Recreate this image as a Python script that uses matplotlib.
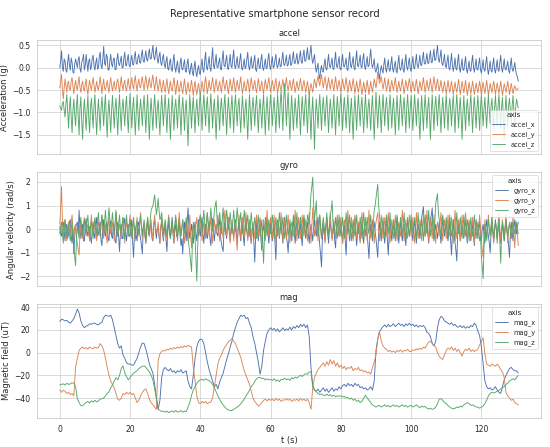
import numpy as np
import matplotlib
matplotlib.use("Agg")
import matplotlib.pyplot as plt
import seaborn as sns

sns.set_theme(style="whitegrid")

dt_fast = 0.25  # s between accel / gyro samples
dt_mag = 0.5    # s between magnetometer samples

# ---- accelerometer (g), one row = 5 s ----
accel_x = [
    0.0, 0.15, 0.38, 0.02, -0.08, 0.2, 0.15, -0.05, -0.1, 0.12, 0.3, 0.05, -0.05, 0.22, 0.12, -0.1, -0.12, 0.08, 0.2, 0.1,
    0.0, 0.18, 0.25, -0.02, -0.1, 0.12, 0.18, 0.3, -0.05, 0.05, 0.3, 0.12, -0.08, 0.15, 0.2, -0.04, 0.02, 0.22, 0.28, 0.05,
    -0.05, 0.12, 0.22, -0.03, 0.0, 0.25, 0.35, 0.05, -0.02, 0.2, 0.48, 0.1, 0.05, 0.3, 0.25, -0.05, -0.05, 0.15, 0.3, 0.08,
    0.02, 0.2, 0.22, -0.04, -0.04, 0.18, 0.32, 0.1, 0.05, 0.15, 0.26, 0.0, 0.0, 0.22, 0.35, 0.06, 0.04, 0.2, 0.3, 0.05,
    0.02, 0.18, 0.28, 0.08, 0.06, 0.25, 0.36, 0.1, 0.08, 0.22, 0.3, 0.12, 0.1, 0.28, 0.4, 0.15, 0.12, 0.25, 0.38, 0.18,
    0.15, 0.3, 0.42, 0.2, 0.2, 0.36, 0.5, 0.25, 0.18, 0.32, 0.46, 0.2, 0.1, 0.25, 0.35, 0.12, 0.05, 0.2, 0.3, 0.08,
    0.0, 0.15, 0.25, -0.02, -0.05, 0.12, 0.2, -0.04, -0.08, 0.15, 0.3, 0.02, -0.1, 0.05, 0.15, -0.06, -0.12, 0.1, 0.22, -0.02,
    -0.05, 0.08, 0.18, -0.08, -0.1, 0.1, 0.2, -0.05, -0.15, 0.0, 0.1, -0.1, -0.18, 0.02, 0.15, -0.1, -0.2, -0.05, 0.05, -0.12,
    -0.15, 0.05, 0.2, -0.05, -0.1, 0.15, 0.35, 0.02, -0.05, 0.1, 0.25, 0.0, -0.08, 0.2, 0.45, 0.05, -0.02, 0.15, 0.3, 0.02,
    0.0, 0.12, 0.22, -0.02, -0.05, 0.2, 0.38, 0.05, 0.02, 0.15, 0.28, 0.0, -0.04, 0.12, 0.3, 0.04, 0.0, 0.22, 0.4, 0.05,
    -0.02, 0.1, 0.25, 0.02, 0.0, 0.18, 0.32, 0.0, -0.05, 0.08, 0.2, -0.02, 0.02, 0.2, 0.35, 0.05, -0.05, 0.1, 0.25, 0.0,
    0.0, 0.15, 0.28, -0.03, -0.08, 0.1, 0.22, 0.02, -0.02, 0.18, 0.3, 0.0, -0.06, 0.08, 0.2, -0.02, 0.0, 0.2, 0.32, 0.04,
    -0.04, 0.12, 0.25, 0.0, 0.02, 0.18, 0.3, 0.05, 0.0, 0.1, 0.22, 0.02, 0.04, 0.2, 0.35, 0.08, 0.05, 0.15, 0.28, 0.04,
    0.06, 0.2, 0.3, 0.05, 0.08, 0.22, 0.36, 0.1, 0.1, 0.2, 0.32, 0.08, 0.12, 0.25, 0.38, 0.12, 0.1, 0.28, 0.4, 0.15,
    0.15, 0.3, 0.45, 0.2, 0.18, 0.35, 0.5, 0.22, 0.1, 0.2, 0.3, 0.05, -0.1, 0.0, 0.1, -0.15, -0.25, -0.05, 0.05, -0.08,
    -0.1, 0.08, 0.2, -0.02, -0.05, 0.12, 0.3, 0.05, 0.0, 0.1, 0.22, -0.02, -0.04, 0.15, 0.35, 0.05, 0.0, 0.12, 0.25, -0.02,
    -0.05, 0.12, 0.3, 0.04, 0.02, 0.1, 0.22, -0.03, -0.06, 0.15, 0.35, 0.05, 0.0, 0.12, 0.25, 0.0, -0.05, 0.18, 0.38, 0.06,
    0.02, 0.15, 0.28, 0.02, 0.0, 0.2, 0.32, 0.04, -0.04, 0.1, 0.25, 0.02, 0.05, 0.22, 0.42, 0.1, 0.0, 0.08, 0.2, -0.05,
    -0.1, 0.0, 0.1, -0.12, -0.25, -0.08, 0.05, -0.05, -0.12, 0.08, 0.22, -0.02, -0.1, 0.05, 0.18, -0.04, -0.08, 0.1, 0.25, -0.03,
    -0.1, 0.05, 0.15, -0.06, -0.12, 0.1, 0.28, 0.0, -0.06, 0.05, 0.2, -0.05, -0.1, 0.12, 0.3, 0.02, -0.05, 0.1, 0.22, -0.02,
    -0.08, 0.1, 0.25, 0.0, -0.02, 0.15, 0.3, 0.05, 0.0, 0.12, 0.28, 0.06, 0.05, 0.2, 0.35, 0.1, 0.08, 0.18, 0.32, 0.1,
    0.1, 0.25, 0.38, 0.12, 0.12, 0.28, 0.42, 0.16, 0.18, 0.35, 0.5, 0.22, 0.12, 0.25, 0.4, 0.1, 0.05, 0.18, 0.3, 0.04,
    0.0, 0.15, 0.28, 0.0, -0.05, 0.12, 0.32, 0.05, -0.08, 0.06, 0.22, -0.02, -0.05, 0.15, 0.3, 0.0, -0.1, 0.05, 0.2, -0.04,
    -0.06, 0.1, 0.25, -0.02, -0.12, 0.02, 0.15, -0.05, -0.08, 0.12, 0.28, 0.02, -0.1, 0.05, 0.2, -0.04, -0.05, 0.1, 0.22, -0.05,
    -0.12, 0.02, 0.18, -0.04, -0.08, 0.1, 0.25, -0.02, -0.15, 0.0, 0.15, -0.06, -0.1, 0.08, 0.22, -0.04, -0.12, 0.02, 0.18, -0.05,
    -0.08, 0.12, 0.28, 0.0, -0.1, 0.05, 0.2, -0.03, -0.05, 0.04, 0.15, -0.06, -0.12, 0.06, 0.22, -0.02, -0.08, 0.0, 0.12, -0.05,
    -0.15, -0.2, -0.3,
]
accel_y = [
    -0.45, -0.3, -0.15, -0.5, -0.7, -0.45, -0.25, -0.4, -0.55, -0.35, -0.3, -0.48, -0.5, -0.3, -0.22, -0.42, -0.58, -0.4, -0.28, -0.45,
    -0.5, -0.32, -0.2, -0.44, -0.55, -0.38, -0.3, -0.46, -0.52, -0.36, -0.25, -0.48, -0.6, -0.4, -0.28, -0.42, -0.5, -0.34, -0.22, -0.4,
    -0.55, -0.42, -0.3, -0.45, -0.5, -0.35, -0.2, -0.4, -0.58, -0.38, -0.25, -0.46, -0.5, -0.4, -0.28, -0.44, -0.55, -0.34, -0.22, -0.4,
    -0.52, -0.38, -0.3, -0.48, -0.48, -0.32, -0.25, -0.42, -0.55, -0.36, -0.2, -0.4, -0.5, -0.35, -0.28, -0.45, -0.52, -0.36, -0.24, -0.42,
    -0.5, -0.34, -0.22, -0.4, -0.48, -0.3, -0.18, -0.38, -0.52, -0.36, -0.25, -0.42, -0.45, -0.3, -0.2, -0.38, -0.5, -0.32, -0.18, -0.36,
    -0.48, -0.34, -0.22, -0.4, -0.45, -0.28, -0.16, -0.35, -0.5, -0.34, -0.2, -0.4, -0.52, -0.38, -0.25, -0.42, -0.55, -0.4, -0.28, -0.45,
    -0.55, -0.38, -0.25, -0.44, -0.58, -0.42, -0.3, -0.46, -0.52, -0.36, -0.22, -0.42, -0.6, -0.42, -0.28, -0.46, -0.55, -0.4, -0.3, -0.48,
    -0.58, -0.4, -0.25, -0.44, -0.6, -0.45, -0.32, -0.48, -0.55, -0.4, -0.28, -0.46, -0.62, -0.44, -0.3, -0.48, -0.6, -0.46, -0.35, -0.5,
    -0.62, -0.45, -0.3, -0.46, -0.55, -0.36, -0.2, -0.4, -0.58, -0.42, -0.28, -0.44, -0.5, -0.34, -0.22, -0.4, -0.55, -0.38, -0.25, -0.42,
    -0.52, -0.4, -0.3, -0.44, -0.55, -0.36, -0.2, -0.38, -0.5, -0.38, -0.28, -0.45, -0.58, -0.4, -0.25, -0.4, -0.52, -0.36, -0.22, -0.4,
    -0.55, -0.4, -0.28, -0.42, -0.5, -0.34, -0.2, -0.42, -0.58, -0.44, -0.3, -0.45, -0.52, -0.38, -0.25, -0.4, -0.55, -0.36, -0.22, -0.4,
    -0.5, -0.38, -0.28, -0.45, -0.56, -0.4, -0.24, -0.4, -0.52, -0.4, -0.3, -0.46, -0.58, -0.4, -0.26, -0.4, -0.5, -0.34, -0.22, -0.4,
    -0.55, -0.4, -0.28, -0.42, -0.52, -0.36, -0.24, -0.42, -0.58, -0.42, -0.3, -0.45, -0.5, -0.38, -0.26, -0.42, -0.55, -0.36, -0.22, -0.4,
    -0.52, -0.38, -0.28, -0.42, -0.5, -0.36, -0.25, -0.42, -0.55, -0.42, -0.3, -0.44, -0.5, -0.36, -0.24, -0.4, -0.52, -0.38, -0.28, -0.42,
    -0.55, -0.42, -0.3, -0.46, -0.6, -0.46, -0.35, -0.46, -0.55, -0.38, -0.25, -0.36, -0.45, -0.3, -0.18, -0.3, -0.4, -0.26, -0.15, -0.32,
    -0.45, -0.32, -0.2, -0.36, -0.5, -0.36, -0.22, -0.38, -0.48, -0.34, -0.25, -0.4, -0.52, -0.36, -0.2, -0.38, -0.5, -0.38, -0.28, -0.42,
    -0.55, -0.4, -0.25, -0.4, -0.5, -0.36, -0.22, -0.4, -0.56, -0.42, -0.28, -0.42, -0.52, -0.38, -0.24, -0.42, -0.58, -0.44, -0.3, -0.44,
    -0.55, -0.4, -0.25, -0.44, -0.6, -0.46, -0.32, -0.46, -0.56, -0.42, -0.28, -0.44, -0.6, -0.44, -0.3, -0.44, -0.55, -0.4, -0.25, -0.36,
    -0.45, -0.3, -0.1, -0.22, -0.35, -0.28, -0.2, -0.36, -0.48, -0.36, -0.22, -0.4, -0.52, -0.38, -0.25, -0.42, -0.55, -0.4, -0.28, -0.42,
    -0.5, -0.36, -0.22, -0.4, -0.55, -0.42, -0.3, -0.44, -0.52, -0.38, -0.25, -0.42, -0.58, -0.42, -0.28, -0.4, -0.5, -0.36, -0.24, -0.4,
    -0.55, -0.42, -0.3, -0.44, -0.52, -0.38, -0.26, -0.44, -0.58, -0.44, -0.3, -0.42, -0.5, -0.36, -0.22, -0.4, -0.55, -0.42, -0.28, -0.42,
    -0.5, -0.36, -0.24, -0.42, -0.55, -0.38, -0.2, -0.36, -0.5, -0.38, -0.25, -0.4, -0.52, -0.4, -0.28, -0.44, -0.55, -0.42, -0.3, -0.46,
    -0.58, -0.42, -0.28, -0.44, -0.55, -0.42, -0.3, -0.46, -0.6, -0.46, -0.32, -0.46, -0.55, -0.4, -0.26, -0.44, -0.6, -0.44, -0.3, -0.44,
    -0.56, -0.42, -0.28, -0.46, -0.62, -0.46, -0.32, -0.46, -0.58, -0.44, -0.3, -0.46, -0.6, -0.46, -0.34, -0.46, -0.56, -0.42, -0.3, -0.46,
    -0.6, -0.46, -0.32, -0.46, -0.58, -0.42, -0.28, -0.46, -0.62, -0.48, -0.35, -0.46, -0.56, -0.42, -0.3, -0.46, -0.6, -0.46, -0.34, -0.46,
    -0.58, -0.44, -0.3, -0.46, -0.62, -0.48, -0.36, -0.46, -0.55, -0.42, -0.3, -0.46, -0.6, -0.48, -0.35, -0.46, -0.58, -0.48, -0.4, -0.46,
    -0.5, -0.48, -0.45,
]
accel_z = [
    -0.85, -0.9, -0.95, -0.8, -0.75, -0.95, -1.1, -0.8, -0.6, -1.0, -1.35, -0.9, -0.65, -1.1, -1.45, -0.95, -0.7, -1.05, -1.3, -0.85,
    -0.6, -1.1, -1.5, -0.9, -0.65, -1.2, -1.6, -1.0, -0.7, -1.05, -1.4, -0.95, -0.62, -1.15, -1.45, -0.9, -0.68, -1.0, -1.35, -0.85,
    -0.6, -1.1, -1.5, -1.0, -0.7, -1.05, -1.4, -0.9, -0.65, -0.95, -1.3, -0.85, -0.6, -1.15, -1.55, -1.0, -0.72, -1.1, -1.45, -0.95,
    -0.62, -1.0, -1.35, -0.9, -0.68, -1.1, -1.5, -0.95, -0.6, -1.05, -1.4, -0.9, -0.7, -1.0, -1.3, -0.85, -0.64, -1.1, -1.45, -0.9,
    -0.58, -0.95, -1.35, -0.9, -0.66, -1.1, -1.5, -1.0, -0.6, -1.0, -1.4, -0.95, -0.7, -1.0, -1.3, -0.85, -0.62, -1.05, -1.45, -0.95,
    -0.6, -1.15, -1.6, -1.0, -0.68, -1.05, -1.4, -0.9, -0.6, -0.95, -1.35, -0.9, -0.72, -1.1, -1.5, -0.95, -0.62, -0.95, -1.3, -0.85,
    -0.6, -1.05, -1.45, -0.95, -0.68, -1.15, -1.6, -1.0, -0.62, -1.0, -1.4, -0.9, -0.7, -1.0, -1.35, -0.85, -0.6, -1.05, -1.5, -0.95,
    -0.66, -1.0, -1.4, -0.9, -0.72, -1.2, -1.75, -1.1, -0.6, -0.95, -1.35, -0.9, -0.65, -1.05, -1.45, -0.95, -0.7, -1.0, -1.3, -0.8,
    -0.55, -0.95, -1.4, -0.9, -0.6, -0.95, -1.3, -0.85, -0.65, -1.05, -1.45, -0.9, -0.58, -0.95, -1.35, -0.9, -0.7, -1.1, -1.6, -1.0,
    -0.62, -1.0, -1.4, -0.9, -0.68, -1.0, -1.3, -0.85, -0.6, -1.05, -1.5, -0.95, -0.66, -1.0, -1.35, -0.9, -0.62, -1.0, -1.45, -0.9,
    -0.6, -0.95, -1.3, -0.85, -0.68, -1.05, -1.45, -0.95, -0.62, -1.0, -1.35, -0.9, -0.7, -1.15, -1.6, -1.0, -0.6, -1.0, -1.4, -0.9,
    -0.66, -0.95, -1.3, -0.85, -0.62, -1.05, -1.45, -0.95, -0.7, -1.0, -1.35, -0.9, -0.6, -1.05, -1.5, -0.95, -0.65, -1.0, -1.4, -0.9,
    -0.6, -0.95, -1.3, -0.9, -0.66, -1.05, -1.45, -0.95, -0.6, -0.95, -1.35, -0.8, -0.5, -0.95, -1.4, -0.7, -0.35, -0.8, -1.3, -0.85,
    -0.55, -1.1, -1.6, -1.0, -0.62, -1.0, -1.4, -0.95, -0.68, -1.0, -1.35, -0.9, -0.6, -1.05, -1.5, -0.95, -0.65, -1.0, -1.3, -0.85,
    -0.6, -1.0, -1.45, -0.9, -0.55, -1.1, -1.6, -1.0, -0.65, -1.2, -1.82, -1.1, -0.7, -1.0, -1.35, -0.9, -0.6, -1.0, -1.4, -0.9,
    -0.66, -1.0, -1.3, -0.85, -0.62, -1.05, -1.45, -0.95, -0.7, -1.0, -1.35, -0.9, -0.6, -1.05, -1.5, -0.95, -0.64, -0.95, -1.3, -0.85,
    -0.58, -1.0, -1.4, -0.9, -0.66, -1.0, -1.35, -0.9, -0.6, -1.05, -1.45, -0.95, -0.68, -1.15, -1.6, -1.0, -0.62, -1.0, -1.4, -0.9,
    -0.6, -0.95, -1.3, -0.85, -0.66, -1.05, -1.45, -0.95, -0.6, -0.95, -1.35, -0.9, -0.7, -1.05, -1.4, -0.9, -0.62, -1.1, -1.6, -1.0,
    -0.55, -0.95, -1.35, -0.9, -0.62, -1.05, -1.45, -0.95, -0.6, -0.95, -1.3, -0.85, -0.66, -1.0, -1.4, -0.9, -0.6, -0.95, -1.35, -0.9,
    -0.68, -1.1, -1.5, -0.95, -0.62, -1.0, -1.4, -0.9, -0.6, -0.95, -1.3, -0.85, -0.66, -1.05, -1.45, -0.9, -0.6, -0.95, -1.35, -0.9,
    -0.62, -1.0, -1.4, -0.9, -0.6, -0.95, -1.3, -0.85, -0.68, -1.15, -1.6, -1.0, -0.62, -1.0, -1.4, -0.9, -0.6, -0.95, -1.35, -0.9,
    -0.66, -1.1, -1.6, -1.0, -0.6, -1.0, -1.4, -0.9, -0.64, -0.95, -1.3, -0.85, -0.6, -1.05, -1.45, -0.95, -0.66, -1.0, -1.35, -0.9,
    -0.6, -1.0, -1.4, -0.9, -0.68, -0.95, -1.3, -0.85, -0.62, -1.05, -1.45, -0.9, -0.6, -0.95, -1.35, -0.9, -0.66, -1.1, -1.6, -1.0,
    -0.62, -1.0, -1.4, -0.9, -0.7, -1.0, -1.3, -0.85, -0.6, -1.05, -1.45, -0.9, -0.65, -1.0, -1.35, -0.9, -0.62, -1.0, -1.4, -0.9,
    -0.6, -0.95, -1.3, -0.9, -0.66, -1.0, -1.35, -0.9, -0.6, -0.95, -1.25, -0.85, -0.68, -1.05, -1.4, -0.9, -0.62, -0.95, -1.3, -0.85,
    -0.6, -1.0, -1.35, -0.9, -0.66, -1.1, -1.6, -1.0, -0.62, -0.95, -1.3, -0.85, -0.68, -0.95, -1.25, -0.85, -0.62, -0.95, -1.3, -0.9,
    -0.7, -0.8, -0.9,
]

# ---- gyroscope (rad/s), one row = 5 s ----
gyro_x = [
    0.1, -0.2, -0.3, 0.2, 0.3, -0.1, -0.5, 0.1, 0.2, -0.4, -0.2, 0.3, 0.4, -0.3, -0.6, 0.0, -1.05, -0.3, 0.1, 0.2,
    0.3, -0.2, 0.8, 0.1, -0.4, -0.1, 0.2, -0.5, -0.5, 0.2, 0.45, -0.1, -0.3, 0.1, 0.1, -0.4, -0.6, 0.0, 0.3, -0.2,
    -0.4, 0.2, 0.5, -0.3, -0.2, 0.1, 0.3, -0.5, -0.7, 0.0, 0.4, -0.2, -0.3, 0.3, 0.2, -0.4, -0.5, 0.1, 0.35, -0.3,
    -0.4, 0.2, 0.1, -0.5, -0.6, 0.1, 0.3, -0.3, -0.95, -0.2, 0.2, -0.4, -0.4, 0.3, 0.45, -0.2, -0.5, 0.0, 0.2, -0.3,
    -0.3, 0.1, 0.4, -0.6, -1.2, -0.2, 0.1, -0.3, -0.5, 0.2, 0.3, -0.2, -0.4, -0.7, -1.05, 0.0, 0.2, -0.3, -0.6, 0.1,
    0.35, -0.2, -0.3, 0.1, 0.2, -0.4, -0.5, 0.2, 0.4, -0.1, -0.4, 0.0, 0.1, -0.3, -0.6, 0.1, 0.3, -0.2, -0.5, 0.0,
    0.2, -0.5, -0.95, 0.0, 0.3, -0.2, -0.4, 0.1, 0.5, -0.2, -0.6, 0.0, 0.2, -0.3, -0.3, 0.2, 0.4, -0.3, -0.7, -0.4,
    -1.05, -0.2, 0.3, -0.1, -0.5, 0.3, 0.9, 0.1, -0.4, -0.1, 0.2, -0.3, -0.6, 0.0, 0.3, -0.2, -0.5, 0.1, 0.4, -0.1,
    -0.3, 0.2, 0.5, -0.2, -0.6, 0.0, 0.2, -0.3, -0.4, 0.1, 0.3, -0.4, -0.7, 0.0, 0.45, -0.1, -0.5, 0.0, 0.2, -0.2,
    -0.3, 0.2, 0.4, -0.3, -0.6, -0.8, -0.95, 0.0, 0.3, -0.2, -0.4, 0.2, 0.5, -0.1, -0.5, 0.0, 0.2, -0.1, -0.3, 0.1,
    0.4, -0.2, -0.6, 0.0, 0.3, -0.2, -0.5, 0.1, 0.2, -0.3, -0.7, 0.0, 0.45, -0.1, -0.4, 0.1, 0.3, -0.3, -0.6, 0.0,
    0.2, -0.6, -1.4, -0.3, 0.3, -0.1, -0.5, 0.1, 0.4, -0.4, -0.9, -0.2, 0.2, -0.1, -0.4, 0.2, 0.5, -0.1, -0.6, -0.1,
    0.3, -0.2, -0.5, 0.0, 0.2, -0.6, -1.3, -0.2, 0.4, 0.0, -0.4, 0.1, 0.3, -0.2, -0.6, 0.1, 0.5, -0.1, -0.3, -0.6,
    -1.0, -0.3, 0.2, -0.1, -0.5, 0.1, 0.4, -0.2, -0.6, 0.0, 0.3, -0.1, -0.4, 0.0, 0.2, -0.3, -0.7, 0.0, 0.5, -0.1,
    -0.4, 0.0, 0.3, -0.2, -0.6, 0.0, 0.2, -0.2, -0.5, 0.1, 0.4, -0.1, -0.3, 0.2, 0.5, -0.2, -0.7, -1.1, -1.6, -0.4,
    0.2, -0.2, -0.5, 0.1, 0.4, -0.2, -0.6, 0.0, 0.3, -0.1, -0.4, 0.0, 0.2, -0.5, -0.8, 0.0, 0.5, 0.0, -0.3, 0.1,
    0.3, -0.2, -0.6, 0.0, 0.2, -0.5, -1.1, -0.2, 0.4, 0.0, -0.5, 0.0, 0.3, -0.1, -0.4, 0.1, 0.5, -0.2, -0.7, -0.1,
    0.2, -0.2, -0.5, 0.0, 0.3, -0.3, -0.6, 0.1, 0.4, 0.0, -0.3, -0.7, -1.25, -0.3, 0.2, -0.2, -0.5, 0.0, 0.3, -0.1,
    -0.4, -0.8, -1.2, -0.2, 0.3, -0.1, -0.5, 0.0, 0.2, -0.3, -0.6, 0.1, 0.4, -0.5, -1.1, -0.2, 0.3, -0.1, -0.5, 0.0,
    0.2, -0.2, -0.4, 0.1, 0.5, -0.1, -0.6, 0.0, 0.3, -0.2, -0.5, 0.0, 0.2, -0.3, -0.7, 0.0, 0.4, 0.0, -0.3, 0.0,
    0.3, -0.2, -0.5, 0.1, 0.4, -0.2, -0.6, 0.0, 0.2, -0.1, -0.4, 0.2, 0.5, 0.7, 0.95, 0.1, -0.3, 0.0, 0.3, -0.2,
    -0.6, 0.0, 0.4, 0.6, 0.9, 0.0, -0.5, -0.1, 0.2, -0.1, -0.4, 0.0, 0.3, -0.2, -0.6, 0.0, 0.5, 0.0, -0.3, 0.0,
    0.2, -0.2, -0.5, 0.0, 0.3, -0.5, -1.1, -0.2, 0.4, -0.2, -0.6, -0.9, -1.35, -0.2, 0.3, -0.1, -0.5, 0.0, 0.2, -0.1,
    -0.4, 0.1, 0.5, -0.2, -0.6, 0.0, 0.3, -0.2, -0.5, 0.0, 0.2, -0.3, -0.7, 0.0, 0.4, 0.0, -0.4, 0.0, 0.3, -0.1,
    -0.5, 0.0, 0.2, -0.2, -0.6, 0.0, 0.4, 0.0, -0.3, -0.6, -1.0, -0.2, 0.3, -0.1, -0.5, 0.0, 0.4, 0.0, -0.4, 0.0,
    0.3, -0.2, -0.6, 0.0, 0.2, -0.2, -0.5, 0.0, 0.4, 0.0, -0.3, -0.7, -1.2, -0.2, 0.3, -0.1, -0.5, 0.0, 0.4, 0.1,
    -0.2, 0.1, 0.3,
]
gyro_y = [
    0.2, 0.9, 1.8, 0.3, -0.3, 0.1, 0.4, -0.2, -0.5, 0.0, 0.3, -0.1, -0.2, 0.3, 0.6, 0.0, -0.4, 0.1, 0.2, -0.3,
    -0.6, -0.9, -1.1, -0.2, 0.3, -0.1, -0.4, 0.2, 0.5, 0.0, -0.3, 0.1, 0.2, -0.2, -0.5, 0.2, 0.6, 0.1, -0.2, 0.0,
    0.4, -0.1, -0.5, 0.1, 0.3, 0.0, -0.3, 0.2, 0.6, 0.0, -0.4, 0.1, 0.2, -0.3, -0.6, 0.1, 0.5, 0.0, -0.2, 0.1,
    0.3, -0.1, -0.5, 0.2, 0.7, 0.1, -0.3, 0.0, 0.2, -0.1, -0.4, 0.1, 0.5, 0.0, -0.6, 0.0, 0.3, 0.0, -0.2, 0.2,
    0.6, 0.0, -0.4, 0.1, 0.3, -0.1, -0.5, 0.2, 0.5, 0.0, -0.3, 0.2, 0.7, 0.1, -0.4, 0.0, 0.2, -0.2, -0.6, 0.1,
    0.5, 0.0, -0.3, 0.1, 0.4, -0.1, -0.5, 0.2, 0.6, 0.1, -0.2, 0.0, 0.3, -0.2, -0.6, 0.0, 0.5, 0.1, -0.4, 0.0,
    0.3, -0.1, -0.5, 0.2, 0.6, 0.1, -0.3, 0.0, 0.2, -0.2, -0.6, 0.1, 0.5, 0.0, -0.4, 0.2, 0.7, 0.1, -0.3, 0.0,
    0.4, -0.1, -0.6, 0.0, 0.3, -0.1, -0.5, 0.1, 0.6, -0.2, -0.8, 0.0, 0.2, -0.1, -0.4, 0.2, 0.5, 0.0, -0.3, 0.1,
    0.6, 0.0, -0.5, 0.0, 0.3, -0.1, -0.4, 0.2, 0.7, 0.1, -0.3, 0.1, 0.5, -0.1, -0.6, 0.0, 0.4, 0.0, -0.2, 0.2,
    0.6, 0.0, -0.5, 0.0, 0.3, -0.1, -0.4, 0.3, 0.8, 0.1, -0.3, 0.0, 0.5, -0.2, -0.6, 0.0, 0.4, 0.0, -0.5, 0.0,
    0.3, -0.4, -0.9, 0.0, 0.6, 0.1, -0.4, 0.1, 0.5, 0.0, -0.3, 0.2, 0.7, 0.0, -0.5, 0.0, 0.4, -0.1, -0.6, 0.0,
    0.3, 0.0, -0.4, 0.1, 0.6, 0.0, -0.3, 0.1, 0.5, -0.2, -0.7, 0.0, 0.4, 0.0, -0.5, 0.2, 0.8, 0.1, -0.3, 0.1,
    0.5, 0.0, -0.4, 0.1, 0.6, -0.1, -0.6, 0.0, 0.3, 0.0, -0.3, 0.2, 0.7, 0.0, -0.5, 0.0, 0.4, 0.0, -0.4, 0.1,
    0.6, 0.0, -0.6, 0.0, 0.3, 0.0, -0.3, 0.3, 0.8, 0.0, -0.5, 0.1, 0.5, 0.0, -0.4, 0.1, 0.6, 0.0, -0.3, 0.1,
    0.4, -0.1, -0.5, 0.2, 0.7, 0.0, -0.6, 0.2, 0.9, 0.2, -0.3, 0.0, 0.4, 0.0, -0.5, 0.1, 0.6, 0.0, -0.4, 0.0,
    0.3, -0.1, -0.6, 0.0, 0.5, 0.0, -0.3, 0.2, 0.7, 0.0, -0.5, 0.0, 0.4, 0.0, -0.4, 0.1, 0.6, 0.0, -0.3, 0.1,
    0.5, -0.1, -0.6, 0.0, 0.4, 0.0, -0.4, 0.2, 0.8, 0.1, -0.3, 0.1, 0.5, 0.0, -0.5, 0.1, 0.6, 0.0, -0.4, 0.0,
    0.3, -0.1, -0.6, 0.2, 0.7, 0.1, -0.3, 0.1, 0.5, 0.0, -0.5, 0.1, 0.8, 0.1, -0.4, 0.0, 0.4, -0.1, -0.6, 0.0,
    0.3, 0.5, 0.7, 0.0, -0.5, 0.0, 0.6, 0.1, -0.4, 0.0, 0.5, 0.1, -0.3, 0.2, 0.7, 0.0, -0.6, 0.0, 0.4, 0.0,
    -0.4, 0.1, 0.6, 0.0, -0.5, 0.0, 0.3, 0.0, -0.3, 0.2, 0.8, 0.1, -0.5, 0.0, 0.4, 0.0, -0.4, 0.1, 0.6, 0.1,
    -0.3, 0.0, 0.5, 0.0, -0.6, 0.0, 0.7, 0.1, -0.4, 0.0, 0.4, 0.0, -0.5, 0.1, 0.6, 0.0, -0.3, 0.2, 0.8, 0.1,
    -0.5, 0.0, 0.4, 0.0, -0.4, 0.1, 0.6, 0.0, -0.6, 0.0, 0.3, 0.0, -0.3, 0.2, 0.7, 0.1, -0.5, 0.0, 0.4, 0.0,
    -0.4, 0.1, 0.6, 0.0, -0.3, 0.0, 0.5, 0.0, -0.6, 0.1, 0.8, 0.1, -0.4, 0.0, 0.4, 0.0, -0.5, 0.0, 0.6, 0.0,
    -0.3, 0.2, 0.7, 0.0, -0.5, 0.0, 0.4, 0.0, -0.4, 0.0, 0.5, 0.0, -0.6, 0.0, 0.3, 0.0, -0.3, 0.1, 0.6, 0.0,
    -0.5, -0.9, -1.2, -0.2, 0.4, 0.0, -0.4, 0.1, 0.6, 0.0, -0.3, 0.1, 0.5, 0.0, -0.6, 0.0, 0.3, 0.0, -0.4, 0.2,
    0.7, 0.0, -0.5, 0.0, 0.4, 0.0, -0.3, 0.1, 0.6, 0.0, -0.6, 0.0, 0.3, 0.0, -0.4, 0.0, 0.5, -0.2, -0.8, 0.0,
    0.3, -0.2, -0.7,
]
gyro_z = [
    -0.2, 0.1, 0.3, -0.2, -0.6, 0.0, 0.4, 0.1, -0.3, 0.0, 0.2, -0.2, -0.5, 0.0, 0.3, -0.3, -0.8, -1.2, -1.55, -0.4,
    0.2, -0.1, -0.4, 0.2, 0.5, 0.0, -0.3, 0.1, 0.4, 0.0, -0.2, 0.3, 0.6, 0.0, -0.3, 0.1, 0.3, -0.1, -0.4, 0.1,
    0.5, 0.1, -0.2, 0.3, 0.7, 0.1, -0.3, 0.2, 0.6, 0.2, -0.1, 0.3, 0.8, 0.2, -0.2, 0.4, 0.9, 0.4, 0.1, 0.3,
    0.7, 0.2, -0.2, 0.3, 0.8, 0.2, -0.3, 0.2, 0.6, 0.1, -0.2, 0.2, 0.5, 0.0, -0.4, 0.2, 0.6, 0.1, -0.3, 0.1,
    0.4, 0.0, -0.3, 0.1, 0.5, 0.0, -0.4, 0.1, 0.3, 0.0, -0.2, 0.3, 0.6, 0.1, -0.3, 0.1, 0.4, 0.0, -0.5, 0.0,
    0.5, 0.1, -0.2, 0.4, 0.8, 0.9, 1.0, 1.2, 1.45, 1.0, 0.6, 0.9, 1.3, 0.8, 0.4, 0.5, 0.7, 0.3, -0.2, 0.1,
    0.4, 0.0, -0.3, 0.1, 0.5, 0.0, -0.4, 0.0, 0.3, 0.0, -0.2, 0.2, 0.6, 0.1, -0.5, 0.0, 0.3, 0.0, -0.3, 0.1,
    0.4, 0.0, -0.2, 0.1, 0.5, 0.0, -0.4, -0.7, -1.0, -1.4, -1.8, -0.6, 0.3, 0.0, -0.4, -1.2, -2.2, -0.8, 0.2, 0.4,
    0.6, 0.2, -0.1, 0.3, 0.8, 0.3, -0.2, 0.3, 0.7, 0.3, 0.0, 0.4, 0.9, 0.4, -0.1, 0.3, 0.8, 1.0, 1.2, 0.5,
    0.0, 0.3, 0.7, 0.3, -0.2, 0.4, 0.9, 0.3, -0.1, 0.3, 0.8, 0.4, 0.0, 0.3, 0.7, 0.2, -0.2, 0.3, 0.8, 0.3,
    -0.1, 0.4, 0.9, 0.4, 0.0, 0.3, 0.7, 0.2, -0.2, 0.3, 0.8, 0.3, -0.1, 0.2, 0.6, 0.1, -0.3, 0.2, 0.7, 0.2,
    -0.2, 0.1, 0.5, 0.1, -0.4, 0.1, 0.6, 0.1, -0.3, 0.0, 0.4, -0.5, -1.45, -0.4, 0.5, 0.1, -0.3, 0.0, 0.4, 0.0,
    -0.2, 0.2, 0.6, 0.1, -0.4, 0.0, 0.5, 0.1, -0.3, 0.2, 0.7, 0.2, -0.2, 0.1, 0.5, 0.0, -0.4, 0.1, 0.6, 0.1,
    -0.3, 0.0, 0.4, 0.0, -0.5, 0.1, 0.6, 0.2, -0.2, 0.2, 0.7, 0.1, -0.3, 0.1, 0.5, 0.0, -0.4, 0.1, 0.6, 0.1,
    -0.3, 0.1, 0.6, 0.4, 0.2, 0.8, 1.5, 1.8, 2.2, 1.0, 0.4, 0.8, 1.2, 0.3, -0.3, 0.1, 0.6, 0.1, -0.4, 0.1,
    0.5, 0.1, -0.2, 0.2, 0.7, 0.1, -0.3, 0.1, 0.6, 0.8, 1.2, 0.3, -0.2, 0.1, 0.5, 0.0, -0.4, 0.1, 0.6, 0.1,
    -0.3, 0.1, 0.5, 0.0, -0.4, 0.2, 0.7, 0.1, -0.2, 0.1, 0.6, 0.0, -0.5, 0.0, 0.4, 0.0, -0.3, 0.1, 0.6, 0.1,
    -0.2, 0.1, 0.5, 0.0, -0.4, 0.2, 0.7, 0.1, -0.3, 0.1, 0.5, 0.0, -0.2, 0.2, 0.6, 0.0, -0.4, 0.3, 0.8, 1.0,
    1.3, 1.6, 1.9, 1.0, 0.6, 0.1, -0.3, 0.1, 0.5, 0.0, -0.4, 0.1, 0.6, 0.1, -0.2, 0.2, 0.7, 0.1, -0.3, 0.0,
    0.4, 0.0, -0.5, 0.0, 0.6, 0.1, -0.3, 0.1, 0.5, 0.0, -0.2, 0.2, 0.7, 0.0, -0.4, 0.0, 0.5, 0.0, -0.3, 0.1,
    0.6, 0.1, -0.2, 0.1, 0.5, 0.0, -0.4, 0.1, 0.7, 0.1, -0.3, 0.0, 0.4, 0.0, -0.5, 0.1, 0.6, 0.1, -0.2, 0.2,
    0.8, 0.1, -0.3, 0.1, 0.5, 0.0, -0.4, 0.3, 1.1, 1.3, 1.5, 0.7, 0.4, 0.0, -0.3, 0.1, 0.6, 0.1, -0.2, 0.1,
    0.5, 0.0, -0.4, 0.1, 0.6, 0.1, -0.3, 0.0, 0.4, 0.0, -0.5, 0.1, 0.7, 0.1, -0.2, 0.1, 0.5, 0.0, -0.4, 0.0,
    0.6, 0.1, -0.3, 0.0, 0.4, 0.0, -0.5, 0.0, 0.5, 0.0, -0.3, 0.1, 0.6, 0.0, -0.4, 0.0, 0.3, 0.0, -0.5, -0.3,
    -1.2, -1.6, -2.1, -0.8, 0.2, 0.0, -0.5, 0.0, 0.4, 0.0, -0.3, 0.1, 0.5, 0.0, -0.4, 0.0, 0.3, 0.0, -0.6, 0.0,
    0.4, -0.5, -1.45, -0.3, 0.3, 0.0, -0.5, 0.0, 0.4, 0.0, -0.3, 0.0, 0.2, 0.0, -0.4, 0.0, 0.3, 0.0, -0.2, 0.0,
    0.3, 0.0, -0.2,
]

# ---- magnetometer (uT), one row = 10 s ----
mag_x = [
    27.5, 29.5, 29, 28, 28.5, 27, 26, 28, 30, 34, 38.5, 35, 28, 24, 22, 23.5, 24, 25.5, 25, 26,
    26, 25, 24.5, 26, 27, 31, 33, 32.5, 32, 33, 29, 22, 15, 8, 4, 6, -2, -5, -9, -10,
    -10, -11, -11, -8, -5, 0, 5, 8.5, 8, 3, -3, -10, -14, -18, -28, -40, -50, -42, -22, -15,
    -13, -15, -16, -14, -17, -16, -18, -16, -17, -15, -18, -17, -16, -25, -30, -32, -20, -5, 5, 10,
    12, 11.5, 8, 0, -8, -15, -20, -25, -30, -28, -32, -26, -22, -18, -12, -6, -1, 5, 10, 17,
    22, 27, 30, 33, 32, 33, 30, 31, 26, 22, 14, 8, 0, -8, -19, -12, 2, 10, 17, 20,
    22, 20, 21.5, 19, 21, 18.5, 20, 22, 19.5, 21, 20, 22.5, 20, 23, 21.5, 24, 22, 25, 23, 25,
    22, 24.5, 14, -13, -29, -33, -34, -32, -35, -33, -31, -34, -32, -35, -33, -31, -34, -32, -33, -30,
    -32, -29, -28, -30, -27, -29, -28, -30, -27, -29, -28, -31, -30, -32, -31, -33, -32, -30, -33, -25,
    2, 12, 18.5, 21, 23, 24.5, 22.5, 25, 23, 24, 25.5, 23, 24.5, 26, 24, 25, 23, 25.5, 24, 26,
    24, 25, 23, 24.5, 22.5, 24, 23, 24, 22, 18, 17, 14, 8.5, 6, 10, 22, 29, 32, 31, 28,
    27, 26, 25, 26.5, 24, 25, 23, 22.5, 24, 22, 23.5, 21.5, 23, 22, 24, 23, 26, 24, 19, 15,
    5, -10, -25, -30, -32, -31, -33, -32, -30, -33, -35, -36, -30, -24, -20, -17, -14, -13, -15, -16,
    -16, -18,
]
mag_y = [
    -33, -35, -33, -34, -36, -35, -37, -36, -38, -13, -5, 2, 4, 5, 3.5, 4.5, 3, 5, 4, 3.5,
    5, 4, 4.5, 8, 6, 2, -5, -13, -20, -25, -28, -31, -36, -41, -42, -40, -36, -37, -35, -36.5,
    -35, -37, -36, -40, -44, -42, -38, -35, -33, -32, -36, -41, -44, -46, -48, -50, -7, -1, 1, 2,
    1.5, 3, 2.5, 4, 3, 4.5, 3.5, 5, 4, 5.5, 4.5, 6, 5, 6.5, 5.5, 5, -13, -25, -38, -44,
    -45, -43, -44.5, -43, -45, -44, -43.5, -40, -30, -20, -10, -5, -2, 2, 5, 7, 9.5, 11, 12.5, 10,
    8, 4, 0, -4, -10, -16, -20, -24, -28, -34, -40, -43, -45, -47, -46, -44, -42, -41, -42.5, -41,
    -42, -41, -42.5, -40.5, -42, -41, -43, -41.5, -42, -40.5, -42, -41, -43, -41.5, -42, -41, -42.5, -40.5, -42, -41,
    -42.5, -41, -44, -50, -31, -22, -18, -15, -13, -11, -9, -12, -8, -11, -6, -10, -7, -12, -9, -13,
    -11, -14, -12, -15, -13, -14, -12, -16, -14, -15, -13, -16, -15, -17, -16, -18, -17, -19, -13, -8,
    -2, 12, 18.5, 10, 6, 4, 3, 1, 2, 0.5, 1.5, 0, 2, 1, 2.5, 0.5, 2, 1.5, 3, 1,
    1, 2.5, 2, 3.5, 2.5, 4, 3, 5, 4, 7, 9.5, 10, 8, 6, 5, 0, -3, -5, -6, -2,
    2, 4, 3, 5, 2, 4, 1, 3, 0, -3, 1, 3, 2, 4, 1, 2.5, 1, 2, 3, 7,
    10, 13, -1, -10, -11, -12, -10, -11, -12, -10, -12, -15, -17, -22, -35, -38, -40, -42, -41, -44,
    -45, -46,
]
mag_z = [
    -28.5, -28, -27.5, -28.5, -27, -28, -27.5, -26.5, -27, -30, -40.6, -44, -46.7, -47, -45, -44, -43, -44.5, -42.5, -43.5,
    -42, -43.5, -42.5, -41, -40.6, -40, -38, -36, -34.5, -31, -28.5, -25, -22, -24, -20, -14, -11.7, -18, -21, -24,
    -22, -20, -18, -17, -16, -14, -13, -12, -11.7, -13, -15, -17, -20, -24, -32, -40, -49.7, -51, -52, -51.5,
    -52.5, -51.5, -53, -52, -51.5, -52.5, -51, -52.5, -52, -51, -52.5, -51.5, -52, -48, -44, -37.6, -33, -30, -27, -25,
    -24, -23.5, -24.5, -23, -24, -24.5, -26, -28, -31, -34.5, -38, -41, -44, -46, -48, -49.7, -50.5, -51, -51, -50,
    -49, -48, -47, -45, -43, -41, -38, -36, -33, -30, -28, -25.5, -23, -22, -21.8, -23, -22.5, -24, -23, -24,
    -23.5, -24.5, -23, -25, -24, -25.5, -23.5, -24, -22.5, -24, -23, -24.5, -22, -23, -21.5, -22.5, -21, -20, -21, -19.5,
    -18.5, -19, -17, -17, -30, -33, -34.5, -36, -37, -36.5, -37.5, -38, -36.5, -38, -37, -38.5, -37.5, -39, -38, -38.5,
    -38, -39, -38.5, -40, -39.5, -41, -40, -42, -41, -43, -42, -44, -43, -40, -37.6, -40, -42, -44, -46, -47,
    -48, -47, -46.5, -48, -47, -46, -47.5, -46.5, -48, -47, -46, -47.5, -46.5, -48, -47, -46, -47.5, -46.5, -48, -47,
    -46.5, -48, -47, -46, -47.5, -48.5, -47, -48, -47.5, -49, -49.7, -49, -50, -49.5, -48, -45, -41, -40.6, -42, -44,
    -45, -46.7, -48, -49, -49.7, -49, -48, -48.5, -47, -48, -46, -45, -44, -45, -46.5, -46, -47, -48, -48, -49,
    -48, -47, -45, -42, -38, -36, -35, -35.5, -35, -34, -33, -32, -31, -30, -28, -27, -25, -24, -23, -24,
    -22, -20,
]

panels = [
    ("accel", "Acceleration (g)", dt_fast, {"accel_x": accel_x, "accel_y": accel_y, "accel_z": accel_z}, "lower right"),
    ("gyro", "Angular velocity (rad/s)", dt_fast, {"gyro_x": gyro_x, "gyro_y": gyro_y, "gyro_z": gyro_z}, "upper right"),
    ("mag", "Magnetic field (uT)", dt_mag, {"mag_x": mag_x, "mag_y": mag_y, "mag_z": mag_z}, "upper right"),
]
colors = sns.color_palette("deep", 3)

fig, axes = plt.subplots(3, 1, figsize=(11, 8.94), dpi=50, sharex=True)
fig.subplots_adjust(left=0.067, right=0.984, top=0.91, bottom=0.065, hspace=0.155)

for ax, (name, ylab, dt, series, loc) in zip(axes, panels):
    for c, (lab, vals) in zip(colors, series.items()):
        t = np.arange(len(vals)) * dt
        ax.plot(t, vals, color=c, lw=1.3, label=lab)
    ax.set_title(name)
    ax.set_ylabel(ylab)
    ax.legend(title="axis", loc=loc, fontsize=9.5, title_fontsize=10.5)

axes[2].set_xlabel("t (s)")
fig.suptitle("Representative smartphone sensor record", y=0.98)
fig.savefig("out.png", dpi=50)
